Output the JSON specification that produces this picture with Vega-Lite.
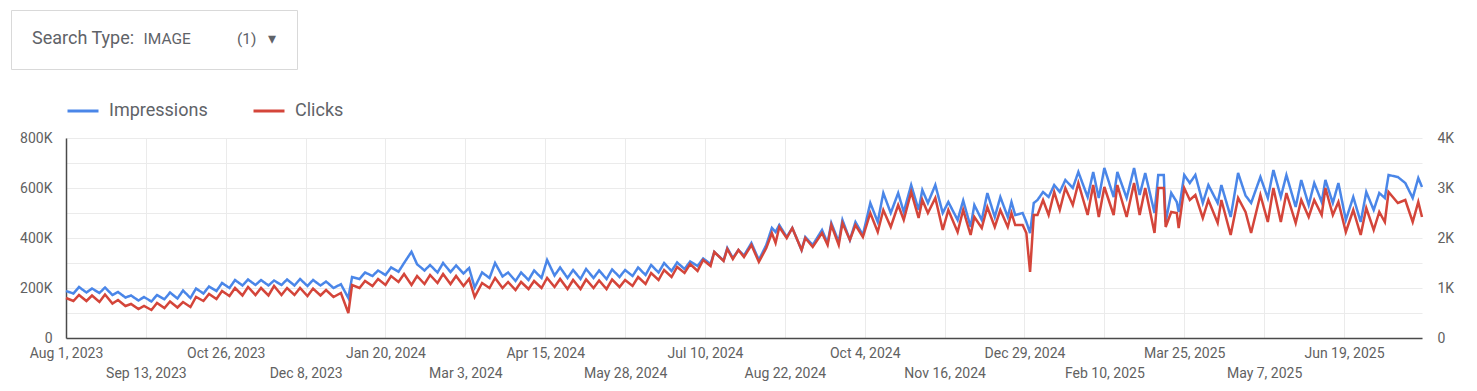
{
  "$schema": "https://vega.github.io/schema/vega-lite/v6.json",
  "width": 1356,
  "height": 200,
  "autosize": {"type": "none"},
  "padding": {"left": 66, "top": 138, "right": 55, "bottom": 53},
  "background": "#ffffff",
  "config": {
    "font": "Roboto",
    "view": {"stroke": null},
    "axis": {"labelFont": "Roboto", "labelFontSize": 14, "labelColor": "#616161", "gridColor": "#ebebeb", "gridWidth": 1, "ticks": false, "tickSize": 0, "title": null}
  },
  "data": {"values": [
    {"date":"2023-08-01","impressions":188000,"clicks":800},
    {"date":"2023-08-05","impressions":178000,"clicks":740},
    {"date":"2023-08-08","impressions":204000,"clicks":860},
    {"date":"2023-08-12","impressions":182000,"clicks":740},
    {"date":"2023-08-15","impressions":198000,"clicks":850},
    {"date":"2023-08-19","impressions":180000,"clicks":720},
    {"date":"2023-08-22","impressions":202000,"clicks":870},
    {"date":"2023-08-26","impressions":172000,"clicks":690},
    {"date":"2023-08-29","impressions":184000,"clicks":760},
    {"date":"2023-09-02","impressions":162000,"clicks":640},
    {"date":"2023-09-05","impressions":170000,"clicks":680},
    {"date":"2023-09-09","impressions":150000,"clicks":580},
    {"date":"2023-09-12","impressions":164000,"clicks":640},
    {"date":"2023-09-16","impressions":146000,"clicks":560},
    {"date":"2023-09-19","impressions":172000,"clicks":700},
    {"date":"2023-09-23","impressions":155000,"clicks":600},
    {"date":"2023-09-26","impressions":182000,"clicks":730},
    {"date":"2023-09-30","impressions":158000,"clicks":610},
    {"date":"2023-10-03","impressions":190000,"clicks":720},
    {"date":"2023-10-07","impressions":160000,"clicks":620},
    {"date":"2023-10-10","impressions":198000,"clicks":820},
    {"date":"2023-10-14","impressions":178000,"clicks":740},
    {"date":"2023-10-17","impressions":206000,"clicks":880},
    {"date":"2023-10-21","impressions":188000,"clicks":780},
    {"date":"2023-10-24","impressions":220000,"clicks":940},
    {"date":"2023-10-28","impressions":200000,"clicks":840},
    {"date":"2023-10-31","impressions":232000,"clicks":1000},
    {"date":"2023-11-04","impressions":210000,"clicks":850},
    {"date":"2023-11-07","impressions":234000,"clicks":1020},
    {"date":"2023-11-11","impressions":212000,"clicks":860},
    {"date":"2023-11-14","impressions":232000,"clicks":1000},
    {"date":"2023-11-18","impressions":210000,"clicks":850},
    {"date":"2023-11-21","impressions":230000,"clicks":1040},
    {"date":"2023-11-25","impressions":212000,"clicks":860},
    {"date":"2023-11-28","impressions":234000,"clicks":1000},
    {"date":"2023-12-02","impressions":210000,"clicks":860},
    {"date":"2023-12-05","impressions":236000,"clicks":1000},
    {"date":"2023-12-09","impressions":208000,"clicks":840},
    {"date":"2023-12-12","impressions":232000,"clicks":990},
    {"date":"2023-12-16","impressions":210000,"clicks":850},
    {"date":"2023-12-19","impressions":226000,"clicks":960},
    {"date":"2023-12-23","impressions":200000,"clicks":820},
    {"date":"2023-12-27","impressions":215000,"clicks":900},
    {"date":"2023-12-31","impressions":160000,"clicks":500},
    {"date":"2024-01-02","impressions":244000,"clicks":1060},
    {"date":"2024-01-06","impressions":236000,"clicks":1000},
    {"date":"2024-01-09","impressions":262000,"clicks":1140},
    {"date":"2024-01-13","impressions":248000,"clicks":1040},
    {"date":"2024-01-16","impressions":270000,"clicks":1180},
    {"date":"2024-01-20","impressions":252000,"clicks":1060},
    {"date":"2024-01-23","impressions":282000,"clicks":1240},
    {"date":"2024-01-27","impressions":265000,"clicks":1120},
    {"date":"2024-01-30","impressions":300000,"clicks":1280},
    {"date":"2024-02-03","impressions":345000,"clicks":1060},
    {"date":"2024-02-06","impressions":295000,"clicks":1240},
    {"date":"2024-02-10","impressions":270000,"clicks":1080},
    {"date":"2024-02-13","impressions":292000,"clicks":1260},
    {"date":"2024-02-17","impressions":262000,"clicks":1100},
    {"date":"2024-02-20","impressions":300000,"clicks":1280},
    {"date":"2024-02-24","impressions":264000,"clicks":1080},
    {"date":"2024-02-27","impressions":290000,"clicks":1240},
    {"date":"2024-03-02","impressions":258000,"clicks":1040},
    {"date":"2024-03-05","impressions":280000,"clicks":1180},
    {"date":"2024-03-08","impressions":202000,"clicks":820},
    {"date":"2024-03-12","impressions":262000,"clicks":1100},
    {"date":"2024-03-16","impressions":240000,"clicks":1000},
    {"date":"2024-03-19","impressions":300000,"clicks":1200},
    {"date":"2024-03-23","impressions":246000,"clicks":1000},
    {"date":"2024-03-26","impressions":262000,"clicks":1120},
    {"date":"2024-03-30","impressions":228000,"clicks":960},
    {"date":"2024-04-02","impressions":262000,"clicks":1120},
    {"date":"2024-04-06","impressions":232000,"clicks":980},
    {"date":"2024-04-09","impressions":270000,"clicks":1140},
    {"date":"2024-04-13","impressions":240000,"clicks":1000},
    {"date":"2024-04-16","impressions":312000,"clicks":1200},
    {"date":"2024-04-20","impressions":250000,"clicks":1020},
    {"date":"2024-04-23","impressions":282000,"clicks":1180},
    {"date":"2024-04-27","impressions":240000,"clicks":980},
    {"date":"2024-04-30","impressions":272000,"clicks":1160},
    {"date":"2024-05-04","impressions":236000,"clicks":980},
    {"date":"2024-05-07","impressions":276000,"clicks":1170},
    {"date":"2024-05-11","impressions":240000,"clicks":1000},
    {"date":"2024-05-14","impressions":270000,"clicks":1150},
    {"date":"2024-05-18","impressions":236000,"clicks":980},
    {"date":"2024-05-21","impressions":274000,"clicks":1170},
    {"date":"2024-05-25","impressions":244000,"clicks":1020},
    {"date":"2024-05-28","impressions":272000,"clicks":1160},
    {"date":"2024-06-01","impressions":248000,"clicks":1040},
    {"date":"2024-06-04","impressions":282000,"clicks":1220},
    {"date":"2024-06-08","impressions":252000,"clicks":1080},
    {"date":"2024-06-11","impressions":292000,"clicks":1300},
    {"date":"2024-06-15","impressions":262000,"clicks":1160},
    {"date":"2024-06-18","impressions":300000,"clicks":1360},
    {"date":"2024-06-22","impressions":268000,"clicks":1220},
    {"date":"2024-06-25","impressions":302000,"clicks":1420},
    {"date":"2024-06-29","impressions":276000,"clicks":1300},
    {"date":"2024-07-02","impressions":306000,"clicks":1480},
    {"date":"2024-07-06","impressions":288000,"clicks":1340},
    {"date":"2024-07-09","impressions":318000,"clicks":1560},
    {"date":"2024-07-13","impressions":296000,"clicks":1440},
    {"date":"2024-07-15","impressions":344000,"clicks":1720},
    {"date":"2024-07-20","impressions":310000,"clicks":1540},
    {"date":"2024-07-22","impressions":360000,"clicks":1780},
    {"date":"2024-07-25","impressions":320000,"clicks":1580},
    {"date":"2024-07-28","impressions":352000,"clicks":1760},
    {"date":"2024-07-31","impressions":330000,"clicks":1620},
    {"date":"2024-08-04","impressions":380000,"clicks":1860},
    {"date":"2024-08-08","impressions":312000,"clicks":1520},
    {"date":"2024-08-12","impressions":372000,"clicks":1800},
    {"date":"2024-08-15","impressions":440000,"clicks":2100},
    {"date":"2024-08-17","impressions":424000,"clicks":1900},
    {"date":"2024-08-19","impressions":452000,"clicks":2220},
    {"date":"2024-08-23","impressions":404000,"clicks":2000},
    {"date":"2024-08-26","impressions":440000,"clicks":2200},
    {"date":"2024-08-31","impressions":352000,"clicks":1760},
    {"date":"2024-09-02","impressions":404000,"clicks":2000},
    {"date":"2024-09-06","impressions":372000,"clicks":1820},
    {"date":"2024-09-11","impressions":432000,"clicks":2100},
    {"date":"2024-09-14","impressions":380000,"clicks":1860},
    {"date":"2024-09-16","impressions":460000,"clicks":2260},
    {"date":"2024-09-20","impressions":384000,"clicks":1860},
    {"date":"2024-09-22","impressions":472000,"clicks":2300},
    {"date":"2024-09-26","impressions":392000,"clicks":1960},
    {"date":"2024-09-29","impressions":464000,"clicks":2260},
    {"date":"2024-10-03","impressions":412000,"clicks":2020},
    {"date":"2024-10-07","impressions":540000,"clicks":2500},
    {"date":"2024-10-11","impressions":464000,"clicks":2120},
    {"date":"2024-10-14","impressions":580000,"clicks":2560},
    {"date":"2024-10-18","impressions":500000,"clicks":2220},
    {"date":"2024-10-22","impressions":580000,"clicks":2660},
    {"date":"2024-10-25","impressions":504000,"clicks":2360},
    {"date":"2024-10-29","impressions":612000,"clicks":2920},
    {"date":"2024-11-02","impressions":512000,"clicks":2400},
    {"date":"2024-11-04","impressions":592000,"clicks":2760},
    {"date":"2024-11-07","impressions":540000,"clicks":2500},
    {"date":"2024-11-11","impressions":612000,"clicks":2800},
    {"date":"2024-11-15","impressions":500000,"clicks":2160},
    {"date":"2024-11-18","impressions":544000,"clicks":2560},
    {"date":"2024-11-23","impressions":472000,"clicks":2120},
    {"date":"2024-11-26","impressions":550000,"clicks":2560},
    {"date":"2024-11-30","impressions":444000,"clicks":2060},
    {"date":"2024-12-02","impressions":532000,"clicks":2420},
    {"date":"2024-12-06","impressions":472000,"clicks":2200},
    {"date":"2024-12-09","impressions":580000,"clicks":2620},
    {"date":"2024-12-13","impressions":484000,"clicks":2220},
    {"date":"2024-12-16","impressions":564000,"clicks":2560},
    {"date":"2024-12-20","impressions":484000,"clicks":2220},
    {"date":"2024-12-22","impressions":544000,"clicks":2500},
    {"date":"2024-12-24","impressions":492000,"clicks":2260},
    {"date":"2024-12-28","impressions":500000,"clicks":2260},
    {"date":"2024-12-30","impressions":464000,"clicks":2100},
    {"date":"2025-01-01","impressions":420000,"clicks":1320},
    {"date":"2025-01-03","impressions":540000,"clicks":2460},
    {"date":"2025-01-05","impressions":552000,"clicks":2460},
    {"date":"2025-01-08","impressions":584000,"clicks":2760},
    {"date":"2025-01-11","impressions":564000,"clicks":2460},
    {"date":"2025-01-14","impressions":612000,"clicks":2920},
    {"date":"2025-01-17","impressions":584000,"clicks":2560},
    {"date":"2025-01-20","impressions":632000,"clicks":3000},
    {"date":"2025-01-24","impressions":600000,"clicks":2660},
    {"date":"2025-01-27","impressions":664000,"clicks":3100},
    {"date":"2025-02-01","impressions":564000,"clicks":2460},
    {"date":"2025-02-04","impressions":664000,"clicks":3060},
    {"date":"2025-02-07","impressions":560000,"clicks":2420},
    {"date":"2025-02-10","impressions":680000,"clicks":3020},
    {"date":"2025-02-15","impressions":564000,"clicks":2460},
    {"date":"2025-02-17","impressions":664000,"clicks":3060},
    {"date":"2025-02-22","impressions":560000,"clicks":2420},
    {"date":"2025-02-26","impressions":680000,"clicks":3100},
    {"date":"2025-03-01","impressions":572000,"clicks":2460},
    {"date":"2025-03-04","impressions":660000,"clicks":3000},
    {"date":"2025-03-09","impressions":500000,"clicks":2100},
    {"date":"2025-03-11","impressions":652000,"clicks":3000},
    {"date":"2025-03-14","impressions":652000,"clicks":3000},
    {"date":"2025-03-15","impressions":464000,"clicks":2220},
    {"date":"2025-03-18","impressions":580000,"clicks":2520},
    {"date":"2025-03-21","impressions":544000,"clicks":2500},
    {"date":"2025-03-22","impressions":504000,"clicks":2200},
    {"date":"2025-03-25","impressions":652000,"clicks":3000},
    {"date":"2025-03-28","impressions":620000,"clicks":2760},
    {"date":"2025-03-31","impressions":652000,"clicks":2860},
    {"date":"2025-04-04","impressions":540000,"clicks":2400},
    {"date":"2025-04-07","impressions":612000,"clicks":2760},
    {"date":"2025-04-12","impressions":540000,"clicks":2300},
    {"date":"2025-04-14","impressions":612000,"clicks":2760},
    {"date":"2025-04-19","impressions":484000,"clicks":2060},
    {"date":"2025-04-23","impressions":660000,"clicks":2800},
    {"date":"2025-04-27","impressions":570000,"clicks":2520},
    {"date":"2025-04-30","impressions":540000,"clicks":2100},
    {"date":"2025-05-05","impressions":644000,"clicks":2860},
    {"date":"2025-05-09","impressions":560000,"clicks":2320},
    {"date":"2025-05-12","impressions":672000,"clicks":3000},
    {"date":"2025-05-16","impressions":564000,"clicks":2320},
    {"date":"2025-05-19","impressions":652000,"clicks":2900},
    {"date":"2025-05-24","impressions":524000,"clicks":2300},
    {"date":"2025-05-27","impressions":632000,"clicks":2760},
    {"date":"2025-05-31","impressions":532000,"clicks":2420},
    {"date":"2025-06-03","impressions":620000,"clicks":2760},
    {"date":"2025-06-07","impressions":544000,"clicks":2460},
    {"date":"2025-06-09","impressions":632000,"clicks":3000},
    {"date":"2025-06-13","impressions":540000,"clicks":2460},
    {"date":"2025-06-16","impressions":620000,"clicks":2720},
    {"date":"2025-06-20","impressions":472000,"clicks":2120},
    {"date":"2025-06-24","impressions":564000,"clicks":2560},
    {"date":"2025-06-28","impressions":464000,"clicks":2060},
    {"date":"2025-07-01","impressions":584000,"clicks":2600},
    {"date":"2025-07-05","impressions":512000,"clicks":2160},
    {"date":"2025-07-08","impressions":580000,"clicks":2520},
    {"date":"2025-07-11","impressions":560000,"clicks":2320},
    {"date":"2025-07-13","impressions":652000,"clicks":2920},
    {"date":"2025-07-18","impressions":644000,"clicks":2700},
    {"date":"2025-07-22","impressions":620000,"clicks":2760},
    {"date":"2025-07-26","impressions":560000,"clicks":2320},
    {"date":"2025-07-29","impressions":640000,"clicks":2720},
    {"date":"2025-07-31","impressions":604000,"clicks":2420}
  ]},
  "encoding": {
    "x": {
      "field": "date",
      "type": "temporal",
      "scale": {"type": "utc", "domain": [{"year": 2023, "month": 8, "date": 1, "utc": true}, {"year": 2025, "month": 7, "date": 31, "utc": true}]},
      "axis": {
        "values": [
          {"year": 2023, "month": 8, "date": 1, "utc": true},
          {"year": 2023, "month": 9, "date": 13, "utc": true},
          {"year": 2023, "month": 10, "date": 26, "utc": true},
          {"year": 2023, "month": 12, "date": 8, "utc": true},
          {"year": 2024, "month": 1, "date": 20, "utc": true},
          {"year": 2024, "month": 3, "date": 3, "utc": true},
          {"year": 2024, "month": 4, "date": 15, "utc": true},
          {"year": 2024, "month": 5, "date": 28, "utc": true},
          {"year": 2024, "month": 7, "date": 10, "utc": true},
          {"year": 2024, "month": 8, "date": 22, "utc": true},
          {"year": 2024, "month": 10, "date": 4, "utc": true},
          {"year": 2024, "month": 11, "date": 16, "utc": true},
          {"year": 2024, "month": 12, "date": 29, "utc": true},
          {"year": 2025, "month": 2, "date": 10, "utc": true},
          {"year": 2025, "month": 3, "date": 25, "utc": true},
          {"year": 2025, "month": 5, "date": 7, "utc": true},
          {"year": 2025, "month": 6, "date": 19, "utc": true}
        ],
        "labelExpr": "utcFormat(datum.value, '%b %-d, %Y')",
        "labelPadding": {"condition": {"test": "round((datum.value - utc(2023,7,1)) / 3715200000) % 2 == 1", "value": 28}, "value": 8},
        "labelOverlap": false,
        "labelFlush": false,
        "labelBound": false,
        "labelAlign": "center",
        "labelBaseline": "top",
        "grid": true,
        "domain": true,
        "domainColor": "#4a4a4a",
        "domainWidth": 1.5
      }
    }
  },
  "layer": [
    {
      "mark": {"type": "line", "strokeWidth": 2.5, "interpolate": "linear"},
      "encoding": {
        "y": {
          "field": "impressions",
          "type": "quantitative",
          "scale": {"domain": [0, 800000], "nice": false},
          "axis": {
            "orient": "left",
            "values": [0, 100000, 200000, 300000, 400000, 500000, 600000, 700000, 800000],
            "labelExpr": "datum.value % 200000 == 0 ? (datum.value == 0 ? '0' : format(datum.value / 1000, 'd') + 'K') : ''",
            "labelPadding": 14,
            "grid": true,
            "domain": true,
            "domainColor": "#4a4a4a",
            "domainWidth": 1.5
          }
        },
        "color": {
          "datum": "Impressions",
          "type": "nominal",
          "scale": {"domain": ["Impressions", "Clicks"], "range": ["#4a86e8", "#d4453a"]},
          "legend": {
            "orient": "none",
            "legendX": 0,
            "legendY": -44,
            "direction": "horizontal",
            "title": null,
            "padding": 0,
            "labelFont": "Roboto",
            "labelFontSize": 18,
            "labelColor": "#5f6368",
            "labelOffset": 9,
            "columnPadding": 39,
            "symbolType": "stroke",
            "symbolSize": 961,
            "symbolStrokeWidth": 3
          }
        },
        "strokeDash": {
          "datum": "IMAGE",
          "type": "nominal",
          "legend": {
            "orient": "none",
            "legendX": -55,
            "legendY": -128,
            "direction": "horizontal",
            "title": "Search Type:",
            "titleOrient": "left",
            "titleFont": "Roboto",
            "titleFontSize": 18,
            "titleFontWeight": "normal",
            "titleColor": "#5f6368",
            "titlePadding": 0,
            "titleBaseline": "middle",
            "labelFont": "Roboto",
            "labelFontSize": 15.5,
            "labelColor": "#5f6368",
            "labelOffset": -7,
            "labelLimit": 400,
            "labelExpr": "'IMAGE\u00a0\u00a0\u00a0\u00a0\u00a0\u00a0\u00a0\u00a0\u00a0\u00a0\u00a0\u00a0(1)\u00a0\u00a0\u00a0▾\u00a0\u00a0\u00a0'",
            "symbolSize": 1,
            "symbolOpacity": 0,
            "symbolStrokeWidth": 0,
            "fillColor": "#ffffff",
            "strokeColor": "#d9d9d9",
            "padding": 21,
            "cornerRadius": 0
          }
        }
      }
    },
    {
      "mark": {"type": "line", "strokeWidth": 2.5, "interpolate": "linear"},
      "encoding": {
        "y": {
          "field": "clicks",
          "type": "quantitative",
          "scale": {"domain": [0, 4000], "nice": false},
          "axis": {
            "orient": "right",
            "values": [0, 1000, 2000, 3000, 4000],
            "labelExpr": "datum.value == 0 ? '0' : format(datum.value / 1000, 'd') + 'K'",
            "labelPadding": 15,
            "grid": false,
            "domain": false
          }
        },
        "color": {"datum": "Clicks", "type": "nominal"}
      }
    }
  ],
  "resolve": {"scale": {"y": "independent"}}
}
